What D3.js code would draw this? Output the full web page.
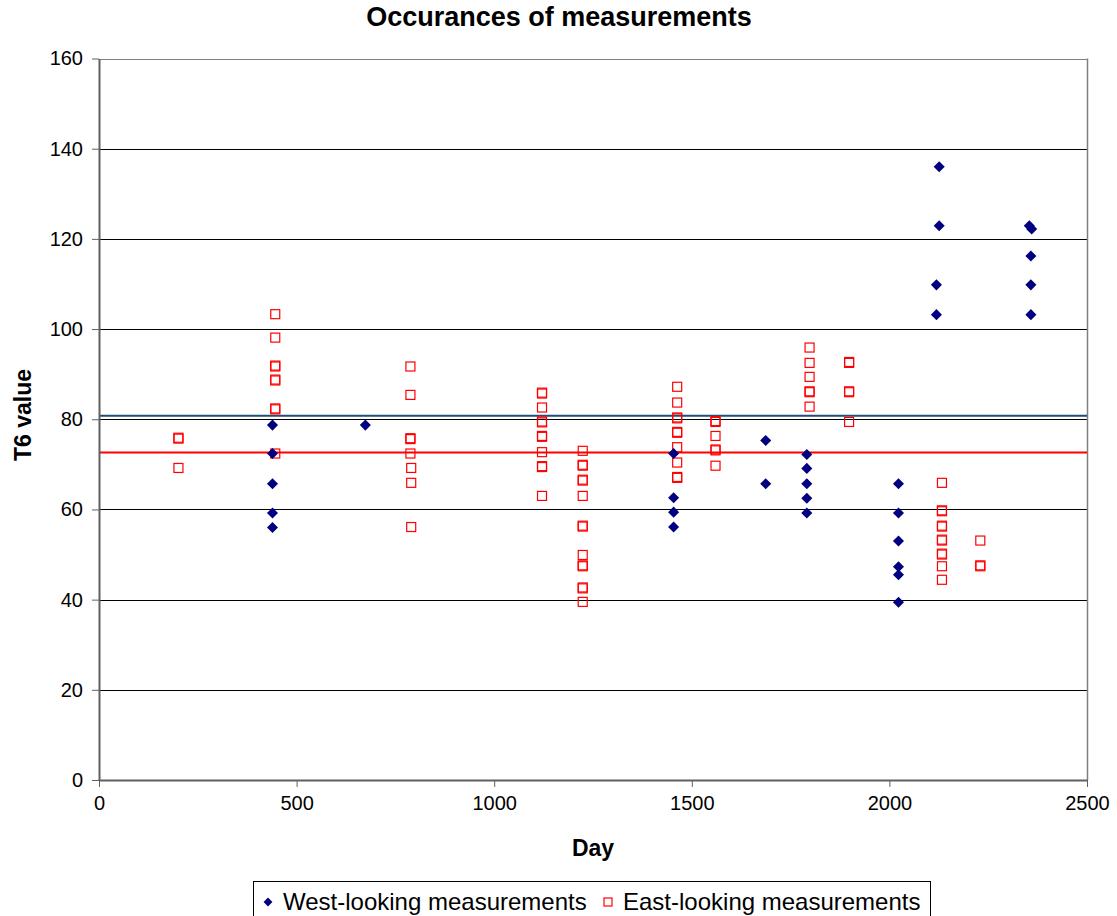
<!DOCTYPE html>
<html>
<head>
<meta charset="utf-8">
<script src="https://cdn.jsdelivr.net/npm/d3@7"></script>
<style>
  html, body { margin: 0; padding: 0; background: #fff; }
  svg { display: block; font-family: "Liberation Sans", Arial, sans-serif; }
</style>
</head>
<body>
<svg id="chart" width="1117" height="916"></svg>
<script>
// ---- data ----
const westDays = [439, 439, 439, 439, 439, 674, 1454, 1454, 1454, 1454, 1687, 1687,
  1791, 1791, 1791, 1791, 1791, 2023, 2023, 2023, 2023, 2023, 2023,
  2126, 2126, 2119, 2119, 2354, 2360, 2358, 2358, 2358];
const westValues = [78.7, 72.4, 65.7, 59.2, 56.0, 78.7, 72.4, 62.6, 59.4, 56.1, 75.3, 65.7,
  72.2, 69.1, 65.7, 62.5, 59.2, 65.7, 59.2, 53.0, 47.3, 45.5, 39.4,
  136.0, 122.9, 109.8, 103.2, 122.9, 122.2, 116.2, 109.8, 103.2];

const eastDays = [201, 201, 201,
  446, 446, 446, 446, 446, 446, 446, 446, 446,
  788, 788, 788, 788, 788, 790, 790, 790,
  1121, 1121, 1121, 1121, 1121, 1121, 1121, 1121, 1121, 1121, 1121,
  1224, 1224, 1224, 1224, 1224, 1224, 1224, 1224, 1224, 1224, 1224, 1224, 1224, 1224,
  1463, 1463, 1463, 1463, 1463, 1463, 1463, 1463, 1463, 1463,
  1560, 1560, 1560, 1560, 1560, 1560,
  1798, 1798, 1798, 1798, 1798, 1798,
  1898, 1898, 1898, 1898, 1898,
  2133, 2133, 2133, 2133, 2133, 2133, 2133, 2133, 2133, 2133, 2133,
  2230, 2230, 2230];
const eastValues = [75.7, 75.9, 69.2,
  103.3, 98.1, 91.7, 91.9, 88.6, 88.8, 82.2, 82.4, 72.4,
  91.7, 85.4, 75.6, 75.8, 72.4, 69.2, 65.9, 56.1,
  85.7, 85.9, 82.6, 79.3, 79.5, 76.1, 76.3, 72.7, 69.4, 69.6, 63.0,
  73.0, 69.7, 69.9, 66.4, 66.6, 63.0, 56.2, 56.4, 49.9, 47.4, 47.6, 42.5, 42.7, 39.5,
  87.2, 83.7, 80.2, 80.4, 77.0, 77.2, 73.8, 70.4, 67.0, 67.2,
  79.4, 79.6, 76.3, 73.1, 73.3, 69.7,
  95.9, 92.5, 89.4, 86.0, 86.2, 82.8,
  92.5, 92.7, 86.0, 86.2, 79.4,
  65.9, 59.6, 59.8, 56.2, 56.4, 53.1, 53.3, 50.0, 50.2, 47.4, 44.4,
  53.1, 47.4, 47.6];

const refLineValues = [80.8, 72.6];   // blue (west mean), red (east mean)
const xTicks = [0, 500, 1000, 1500, 2000, 2500];
const yTicks = [0, 20, 40, 60, 80, 100, 120, 140, 160];
const seriesNames = ["West-looking measurements", "East-looking measurements"];

// ---- layout ----
const FONT = "Liberation Sans, Arial, sans-serif";
const svg = d3.select("#chart");
const x = d3.scaleLinear().domain([0, 2500]).range([99, 1087]);
const y = d3.scaleLinear().domain([0, 160]).range([780, 58.5]);

// gridlines
svg.append("g")
  .selectAll("line")
  .data(yTicks.filter(d => d > 0 && d < 160))
  .join("line")
  .attr("x1", x(0)).attr("x2", x(2500))
  .attr("y1", d => Math.round(y(d)) + 0.5).attr("y2", d => Math.round(y(d)) + 0.5)
  .attr("stroke", "#000").attr("stroke-width", 1);

// plot border (top, right)
svg.append("line").attr("x1", x(0)).attr("x2", x(2500))
  .attr("y1", Math.round(y(160)) + 0.5).attr("y2", Math.round(y(160)) + 0.5)
  .attr("stroke", "#808080").attr("stroke-width", 1);
svg.append("line").attr("x1", Math.round(x(2500)) + 0.5).attr("x2", Math.round(x(2500)) + 0.5)
  .attr("y1", y(160)).attr("y2", y(0))
  .attr("stroke", "#808080").attr("stroke-width", 1.5);

// reference lines
const refColors = ["#1F4E79", "#FF0000"];
svg.append("g").selectAll("line").data(refLineValues).join("line")
  .attr("x1", x(0)).attr("x2", x(2500))
  .attr("y1", d => y(d)).attr("y2", d => y(d))
  .attr("stroke", (d, i) => refColors[i]).attr("stroke-width", 2);

// axes
const yAxis = d3.axisLeft(y).tickValues(yTicks).tickFormat(d3.format("d")).tickSize(7).tickSizeOuter(0).tickPadding(9);
const gy = svg.append("g").attr("transform", `translate(${x(0)},0)`).call(yAxis);
gy.attr("font-family", FONT).attr("font-size", 20);
gy.select(".domain").attr("stroke", "#606060").attr("stroke-width", 2);
gy.selectAll(".tick line").attr("stroke", "#606060");
gy.selectAll("text").attr("fill", "#000");

const xAxis = d3.axisBottom(x).tickValues(xTicks).tickFormat(d3.format("d")).tickSize(7).tickSizeOuter(0).tickPadding(9);
const gx = svg.append("g").attr("transform", `translate(0,${y(0)})`).call(xAxis);
gx.attr("font-family", FONT).attr("font-size", 20);
gx.select(".domain").attr("stroke", "#606060").attr("stroke-width", 2);
gx.selectAll(".tick line").attr("stroke", "#606060");
gx.selectAll("text").attr("fill", "#000");

// markers
const diamond = d3.symbol().type(d3.symbolDiamond2).size(78);
const west = westDays.map((d, i) => ({ d, v: westValues[i] }));
const east = eastDays.map((d, i) => ({ d, v: eastValues[i] }));

svg.append("g").selectAll("rect").data(east).join("rect")
  .attr("x", p => x(p.d) - 4.5).attr("y", p => y(p.v) - 4.5)
  .attr("width", 9).attr("height", 9)
  .attr("fill", "none").attr("stroke", "#FF0000").attr("stroke-width", 1.2);

svg.append("g").selectAll("path").data(west).join("path")
  .attr("transform", p => `translate(${x(p.d)},${y(p.v)})`)
  .attr("d", diamond).attr("fill", "#000080");

// titles
svg.append("text").attr("x", 559).attr("y", 26).attr("text-anchor", "middle")
  .attr("font-size", 27).attr("font-weight", "bold").text("Occurances of measurements");
svg.append("text").attr("x", 593).attr("y", 856).attr("text-anchor", "middle")
  .attr("font-size", 23).attr("font-weight", "bold").text("Day");
svg.append("text").attr("transform", "translate(31,415) rotate(-90)").attr("text-anchor", "middle")
  .attr("font-size", 23).attr("font-weight", "bold").text("T6 value");

// legend
const lg = svg.append("g").attr("font-size", 24);
lg.append("rect").attr("x", 253.5).attr("y", 881.5).attr("width", 677).attr("height", 40)
  .attr("fill", "#fff").attr("stroke", "#000").attr("stroke-width", 1);
lg.append("path").attr("transform", "translate(268,902)").attr("d", d3.symbol().type(d3.symbolDiamond2).size(50)).attr("fill", "#000080");
lg.append("text").attr("x", 283).attr("y", 910).text(seriesNames[0]);
lg.append("rect").attr("x", 604).attr("y", 898).attr("width", 8).attr("height", 8)
  .attr("fill", "none").attr("stroke", "#FF0000").attr("stroke-width", 1.2);
lg.append("text").attr("x", 623).attr("y", 910).text(seriesNames[1]);
</script>
</body>
</html>
